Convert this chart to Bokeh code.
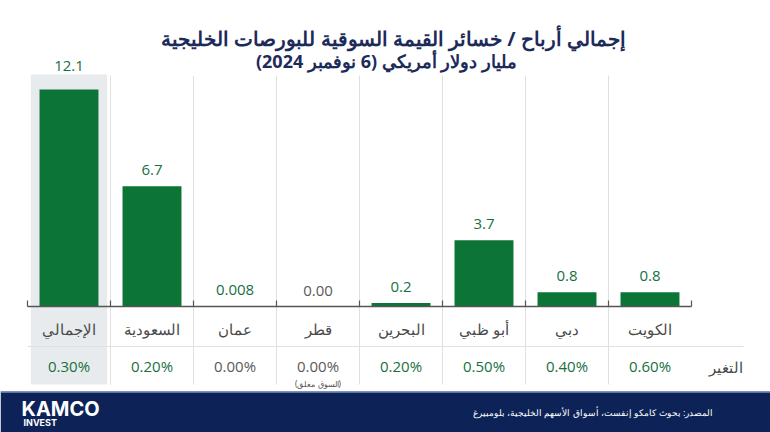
from bokeh.plotting import figure
from bokeh.models import ColumnDataSource, Range1d
from bokeh.core.properties import value
from bokeh.embed import file_html
from bokeh.resources import INLINE

RLM = "\u200f"

# ---- data ----
categories = ["الإجمالي", "السعودية", "عمان", "قطر", "البحرين", "أبو ظبي", "دبي", "الكويت"]
values = [12.1, 6.7, 0.008, 0.0, 0.2, 3.7, 0.8, 0.8]
value_labels = ["12.1", "6.7", "0.008", "0.00", "0.2", "3.7", "0.8", "0.8"]
changes = [0.30, 0.20, 0.00, 0.00, 0.20, 0.50, 0.40, 0.60]
change_labels = ["0.30%", "0.20%", "0.00%", "0.00%", "0.20%", "0.50%", "0.40%", "0.60%"]
notes = ["", "", "", "(السوق مغلق)", "", "", "", ""]

title1 = "إجمالي أرباح / خسائر القيمة السوقية للبورصات الخليجية"
title2 = "مليار دولار أمريكي (6 نوفمبر 2024)"
change_title = "التغير"
source_text = "المصدر: بحوث كامكو إنفست، أسواق الأسهم الخليجية، بلومبيرغ"

# ---- layout constants (pixels) ----
W, H = 770, 432
COL0 = 27.0      # left edge of first column
COLW = 83.0      # column width
BASE = 306.0     # baseline pixel (from top)
TOPPX = 89.0     # top pixel of the largest bar
n = len(categories)

GREEN_BAR = "#0b7436"
GREEN_TXT = "#17703f"
GRAY_TXT = "#5a5a5a"
NAVY = "#0d2358"
GRID = "#e0e0e0"

k = (BASE - TOPPX) / max(values)          # px per unit
y_start = -(H - BASE) / k
y_end = BASE / k

p = figure(width=W, height=H, output_backend="svg", toolbar_location=None,
           x_range=Range1d(-COL0 / COLW, (W - COL0) / COLW),
           y_range=Range1d(y_start, y_end), min_border=0)
p.extra_y_ranges = {"px": Range1d(H, 0)}
p.extra_x_ranges = {"pxx": Range1d(0, W)}
p.axis.visible = False
p.grid.visible = False
p.outline_line_color = None
p.background_fill_color = "white"
p.border_fill_color = "white"

xc = [i + 0.5 for i in range(n)]
fonts_num = value("Open Sans")
fonts_ar = value("Noto Sans")

# highlight band for total column
p.quad(left=[0.04], right=[0.96], top=[74], bottom=[384], y_range_name="px",
       fill_color="#e7ebed", line_color=None)

# vertical separators
for b in range(1, n):
    p.segment(x0=[b], x1=[b], y0=[75], y1=[384], y_range_name="px",
              line_color=GRID, line_width=1)

# row separator
p.segment(x0=[0], x1=[(743 - COL0) / COLW], y0=[346], y1=[346], y_range_name="px",
          line_color=GRID, line_width=1)

# bars
src = ColumnDataSource(dict(x=xc, top=values, lab=value_labels, cat=categories,
                            chg=change_labels, note=[RLM + s + RLM if s else "" for s in notes],
                            vcol=[GREEN_TXT if v > 0 else GRAY_TXT for v in values],
                            ccol=[GREEN_TXT if c > 0 else GRAY_TXT for c in changes]))
p.vbar(x="x", top="top", bottom=0, width=0.71, source=src, fill_color=GREEN_BAR, line_color=None)

# baseline + ticks
p.segment(x0=[0], x1=[n], y0=[0], y1=[0], line_color="#555555", line_width=1.3)
for b in range(0, n + 1):
    p.segment(x0=[b], x1=[b], y0=[BASE - 6], y1=[BASE], y_range_name="px",
              line_color="#555555", line_width=1.2)

# value labels
lab_src = ColumnDataSource(dict(x=xc[1:], y=values[1:], lab=value_labels[1:], col=src.data["vcol"][1:]))
p.text(x="x", y="y", text="lab", source=lab_src, text_align="center", text_baseline="bottom",
       y_offset=-11, text_color="col", text_font=fonts_num, text_font_size="15px")
p.text(x=[xc[0]], y=[70], text=[value_labels[0]], y_range_name="px", text_align="center",
       text_baseline="bottom", text_color=src.data["vcol"][0], text_font=fonts_num,
       text_font_size="15px")

# category labels
p.text(x="x", y=328, text="cat", source=src, y_range_name="px", text_align="center",
       text_baseline="middle", text_color="#4a4a4a", text_font=fonts_ar, text_font_size="15px")
# change values
p.text(x="x", y=365, text="chg", source=src, y_range_name="px", text_align="center",
       text_baseline="middle", text_color="ccol", text_font=fonts_num, text_font_size="15px")
# notes
p.text(x="x", y=383, text="note", source=src, y_range_name="px", text_align="center",
       text_baseline="middle", text_color="#555555", text_font=fonts_ar, text_font_size="8px")
p.text(x=[725], y=[366], text=[change_title], x_range_name="pxx", y_range_name="px",
       text_align="center", text_baseline="middle", text_color="#4a4a4a",
       text_font=fonts_ar, text_font_size="15px")

# titles
p.text(x=[393], y=[38], text=[title1], x_range_name="pxx", y_range_name="px",
       text_align="center", text_baseline="middle", text_color="#1d2b5a",
       text_font=fonts_ar, text_font_size="20px", text_font_style="bold")
p.text(x=[386], y=[60], text=[title2 + RLM], x_range_name="pxx", y_range_name="px",
       text_align="center", text_baseline="middle", text_color="#1d2b5a",
       text_font=fonts_ar, text_font_size="18px", text_font_style="bold")

# footer
p.quad(left=[0], right=[W], top=[391], bottom=[H], x_range_name="pxx", y_range_name="px",
       fill_color=NAVY, line_color=None)
p.segment(x0=[0], x1=[W], y0=[391.5], y1=[391.5], x_range_name="pxx", y_range_name="px",
          line_color="#7d93bd", line_width=1.5)
p.text(x=[21], y=[408], text=["KAMCO"], x_range_name="pxx", y_range_name="px",
       text_align="left", text_baseline="middle", text_color="white",
       text_font=value("Inter"), text_font_size="20px", text_font_style="bold")
p.text(x=[23], y=[422], text=["INVEST"], x_range_name="pxx", y_range_name="px",
       text_align="left", text_baseline="middle", text_color="white",
       text_font=value("Inter"), text_font_size="9px", text_font_style="bold")
p.text(x=[713], y=[412], text=[source_text], x_range_name="pxx", y_range_name="px",
       text_align="right", text_baseline="middle", text_color="white",
       text_font=fonts_ar, text_font_size="9px")

open("out.html", "w").write(file_html(p, INLINE))
